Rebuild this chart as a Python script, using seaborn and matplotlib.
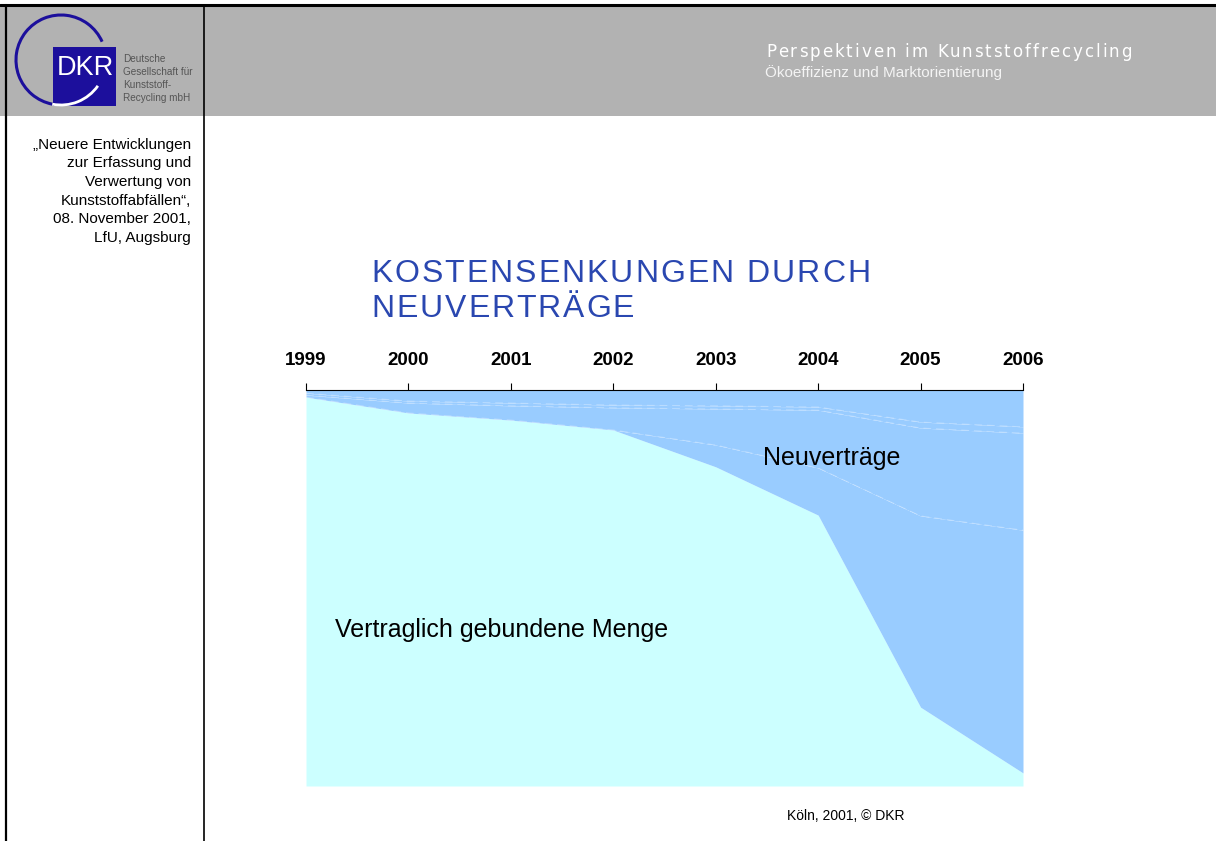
import matplotlib
matplotlib.use("Agg")
import numpy as np
import matplotlib.pyplot as plt
import seaborn as sns
from matplotlib.patches import Rectangle, Arc

# years on the top axis
years = [1999, 2000, 2001, 2002, 2003, 2004, 2005, 2006]

# share of the total volume in percent, stacked from the bottom
gebunden = [98.2, 94.2, 92.4, 89.9, 80.6, 68.4, 19.9, 3.3]   # Vertraglich gebundene Menge
neu_a = [0.0, 0.0, 0.0, 0.0, 5.5, 11.9, 48.3, 61.3]          # Neuverträge, several contracts
neu_b = [0.5, 2.5, 3.6, 5.6, 9.1, 14.6, 22.2, 24.5]
neu_c = [0.5, 0.5, 0.7, 0.7, 0.8, 0.8, 1.5, 1.6]
neu_d = [0.8, 2.8, 3.3, 3.8, 4.0, 4.3, 8.1, 9.3]

left_notes = ["„Neuere Entwicklungen", "zur Erfassung und", "Verwertung von",
              "Kunststoffabfällen“,", "08. November 2001,", "LfU, Augsburg"]
logo_lines = ["Deutsche", "Gesellschaft für", "Kunststoff-", "Recycling mbH"]

sns.set_theme(style="white")
plt.rcParams['font.family'] = ['Liberation Sans', 'DejaVu Sans']

fig = plt.figure(figsize=(12.16, 8.41), dpi=100)

# page frame in pixel coordinates
bg = fig.add_axes([0, 0, 1, 1])
bg.set_xlim(0, 1216)
bg.set_ylim(841, 0)
bg.axis('off')

bg.add_patch(Rectangle((0, 5), 1216, 111, color='#b2b2b2', lw=0))
bg.plot([0, 1216], [5, 5], color='black', lw=2.2)
bg.plot([6, 6], [5, 841], color='black', lw=1.6)
bg.plot([204, 204], [5, 841], color='black', lw=1.2)

# logo
logo_blue = '#1c0f9c'
bg.add_patch(Arc((61, 60), 90, 90, theta1=101, theta2=336, color=logo_blue, lw=2.2))
bg.add_patch(Rectangle((53, 47), 63, 59, color=logo_blue, lw=0))
bg.add_patch(Arc((61, 60), 90, 90, theta1=35, theta2=101, color='white', lw=2.0))
bg.text(85, 75, 'DKR', color='white', fontsize=19.5, ha='center', va='baseline')
for i, line in enumerate(logo_lines):
    bg.text(123, 62 + 13 * i, line, fontsize=7.2, color='#555555', va='baseline')


def spaced(x, y, s, track, **kw):
    # text with extra letter spacing
    r = fig.canvas.get_renderer()
    ref = bg.text(0, 0, 'l', **kw)
    w_ref = ref.get_window_extent(r).width
    ref.remove()
    for i, ch in enumerate(s):
        if ch == ' ':
            continue
        off = 0
        if i > 0:
            t = bg.text(0, 0, s[:i] + 'l', **kw)
            off = t.get_window_extent(r).width - w_ref
            t.remove()
        bg.text(x + off + i * track, y, ch, ha='left', va='baseline', **kw)


spaced(766, 57, 'Perspektiven im Kunststoffrecycling', 2.0, fontsize=12,
       color='white', family='DejaVu Sans')
bg.text(765, 77, 'Ökoeffizienz und Marktorientierung', fontsize=11, color='#f4f4f4', va='baseline')

for i, line in enumerate(left_notes):
    bg.text(191, 148.5 + 18.7 * i, line, ha='right', va='baseline', fontsize=11, color='black')

title_blue = '#2a47b0'
spaced(371, 282, 'KOSTENSENKUNGEN DURCH', 2.0, fontsize=23, color=title_blue)
spaced(371, 317, 'NEUVERTRÄGE', 2.0, fontsize=23, color=title_blue)

bg.text(787, 820, 'Köln, 2001, © DKR', fontsize=10, color='black', va='baseline')

# chart
ax = fig.add_axes([306 / 1216, 1 - 786 / 841, (1023 - 306) / 1216, (786 - 390) / 841])
ax.stackplot(years, gebunden, neu_a, neu_b, neu_c, neu_d,
             colors=['#ccffff', '#99ccff', '#99ccff', '#99ccff', '#99ccff'], lw=0)

cum = np.cumsum([gebunden, neu_a, neu_b, neu_c], axis=0)
for k in range(1, 4):
    sns.lineplot(x=years, y=cum[k], ax=ax, color='white', linewidth=0.7, alpha=0.3,
                 linestyle=(0, (8, 5)))

ax.text(2003.46, 82.8, 'Neuverträge', fontsize=18, va='center', color='black')
ax.text(1999.28, 39.4, 'Vertraglich gebundene Menge', fontsize=18, va='center', color='black')

ax.set_xlim(1999, 2006)
ax.set_ylim(0, 100)
ax.set_xlabel('')
ax.set_ylabel('')
ax.xaxis.tick_top()
ax.set_xticks(years)
ax.set_xticklabels([str(y) for y in years], fontweight='bold', fontsize=13.5)
ax.tick_params(axis='x', top=True, bottom=False, direction='out', length=5,
               width=0.8, color='black', pad=10, labelcolor='black')
ax.set_yticks([])
for side in ['left', 'right', 'bottom']:
    ax.spines[side].set_visible(False)
ax.spines['top'].set_visible(True)
ax.spines['top'].set_color('black')
ax.spines['top'].set_linewidth(0.8)

fig.savefig('out.png', dpi=100)
